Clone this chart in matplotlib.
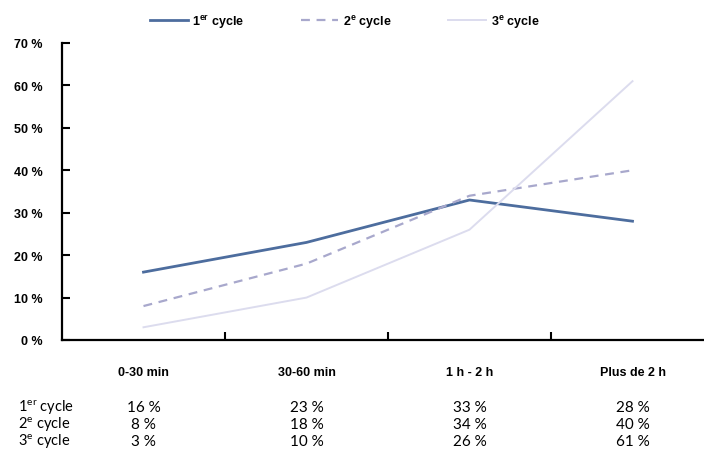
import numpy as np
import matplotlib.pyplot as plt
import matplotlib.transforms as mtransforms

plt.rcParams['mathtext.fontset'] = 'custom'
plt.rcParams['mathtext.rm'] = 'Lato'
plt.rcParams['mathtext.bf'] = 'Liberation Sans:bold'

categories = ['0-30 min', '30-60 min', '1 h - 2 h', 'Plus de 2 h']
cycle1 = [16, 23, 33, 28]
cycle2 = [8, 18, 34, 40]
cycle3 = [3, 10, 26, 61]
legend_labels = ['1$^{\\mathbf{er}}$ cycle', '2$^{\\mathbf{e}}$ cycle', '3$^{\\mathbf{e}}$ cycle']
row_labels = ['1$^{\\mathrm{er}}$ cycle', '2$^{\\mathrm{e}}$ cycle', '3$^{\\mathrm{e}}$ cycle']

W, H = 704, 460
fig = plt.figure(figsize=(W / 100, H / 100), dpi=100)
ax = fig.add_axes([62 / W, (H - 341) / H, 652 / W, (341 - 44) / H])

x = np.arange(len(categories)) + 0.5
l1, = ax.plot(x, cycle1, color='#4d6d9e', lw=2.0)
l2, = ax.plot(x, cycle2, color='#a8a8cc', lw=1.6, dashes=(4, 3))
l3, = ax.plot(x, cycle3, color='#dcdcee', lw=1.4)

ax.set_xlim(0, 4)
ax.set_ylim(0, 70)
ax.set_yticks(range(0, 71, 10))
ax.set_yticklabels([f'{v} %' for v in range(0, 71, 10)],
                   fontsize=9, fontweight='bold', family='Liberation Sans')
ax.set_xticks([1, 2, 3])
ax.set_xticklabels([])
ax.tick_params(axis='both', direction='in', length=6, width=1.5, color='black', pad=14)
ax.tick_params(axis='x', pad=4)
for s in ['top', 'right']:
    ax.spines[s].set_visible(False)
for s in ['left', 'bottom']:
    ax.spines[s].set_linewidth(1.6)

fig.legend([l1, l2, l3], legend_labels, loc='center left', ncol=3,
           bbox_to_anchor=(150 / W, 1 - 22 / H), frameon=False, borderpad=0,
           borderaxespad=0, prop={'weight': 'bold', 'size': 9,
                                  'family': 'Liberation Sans'},
           handlelength=3.0, handletextpad=0.4, columnspacing=4.5)

# category labels and value table under the plot
trans = mtransforms.blended_transform_factory(ax.transData, fig.transFigure)
for xi, cat in zip(x, categories):
    ax.text(xi, 1 - 373 / H, cat, transform=trans, ha='center', va='center',
            fontsize=9, fontweight='bold', family='Liberation Sans')

rows = [cycle1, cycle2, cycle3]
row_y = [408, 425, 442]
for lab, vals, yy in zip(row_labels, rows, row_y):
    fig.text(18 / W, 1 - yy / H, lab, ha='left', va='center', fontsize=10.5,
             family='Lato')
    for xi, v in zip(x, vals):
        ax.text(xi, 1 - yy / H, f'{v} %', transform=trans, ha='center',
                va='center', fontsize=11, family='Lato')

fig.savefig('out.png', dpi=100)
